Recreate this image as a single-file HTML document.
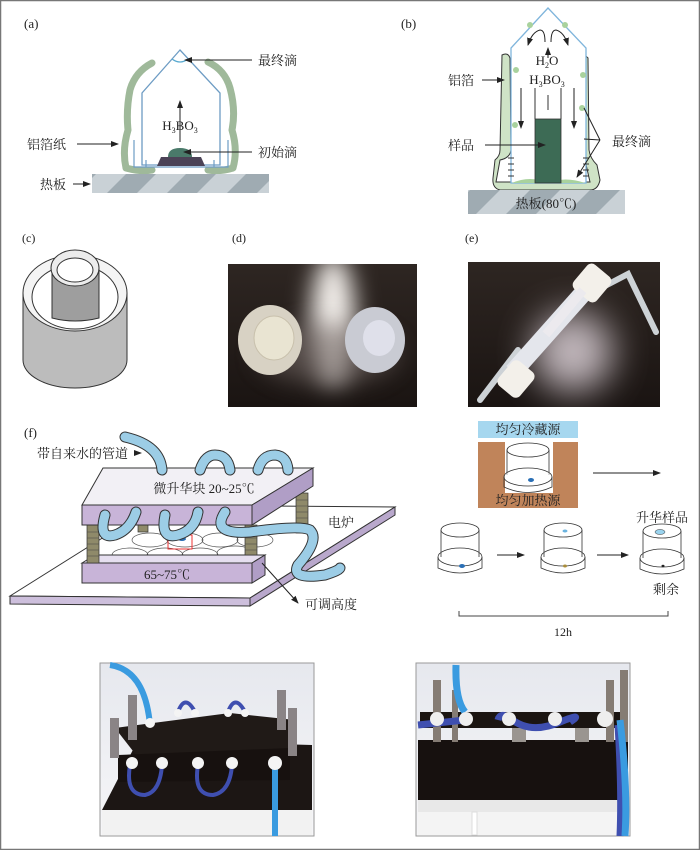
<!DOCTYPE html>
<html><head><meta charset="utf-8"><style>
html,body{margin:0;padding:0;background:#fff}
svg{display:block}
text{font-family:"Liberation Serif","Noto Serif CJK SC","Noto Sans CJK SC",serif;fill:#222}
</style></head><body>
<svg width="700" height="850" viewBox="0 0 700 850" xmlns="http://www.w3.org/2000/svg">
<defs>
<pattern id="hp" width="60" height="40" patternUnits="userSpaceOnUse" patternTransform="skewX(-45)">
<rect width="60" height="40" fill="#c9d1d6"/><rect width="30" height="40" fill="#9fabb2"/></pattern>
<marker id="ar" markerWidth="8" markerHeight="8" refX="7" refY="4" orient="auto" markerUnits="userSpaceOnUse"><path d="M0,1 L8,4 L0,7 z" fill="#222"/></marker>
<filter id="bl" x="-1" y="-1" width="3" height="3"><feGaussianBlur stdDeviation="12"/></filter>
<filter id="bl2" x="-1" y="-1" width="3" height="3"><feGaussianBlur stdDeviation="18"/></filter>
<linearGradient id="dk" x1="0" y1="0" x2="0" y2="1"><stop offset="0" stop-color="#2e2622"/><stop offset="1" stop-color="#1a1412"/></linearGradient>
<linearGradient id="wall" x1="0" y1="0" x2="0" y2="1"><stop offset="0" stop-color="#e6e8ee"/><stop offset="1" stop-color="#f6f6f8"/></linearGradient>
</defs>
<rect x="0.5" y="0.5" width="699" height="849" fill="#fff" stroke="#777" stroke-width="1.5"/>

<!-- (a) -->
<text x="24" y="28" font-size="13">(a)</text>
<g fill="none" stroke="#9fb99a" stroke-width="7" stroke-linecap="round" stroke-linejoin="round">
<path d="M152,63 Q135,72 130,90 Q126,110 128,130 Q122,150 126,168 Q140,172 152,170"/>
<path d="M208,62 Q225,70 230,88 Q236,110 232,130 Q238,150 233,168 Q220,172 208,170"/>
</g>
<path d="M180,50 L142,93 L142,165 L220,165 L220,93 Z" fill="none" stroke="#6d9cc4" stroke-width="1.3"/>
<path d="M134,140 V167 H228 V140 M146,160 V167 M214,160 V167" fill="none" stroke="#6d9cc4" stroke-width="1.2"/>
<path d="M172,59 Q180,65 188,59" fill="none" stroke="#5aaad0" stroke-width="1.3"/>
<path d="M157,166 L161,157 L201,157 L205,166 Z" fill="#4c4357"/>
<path d="M168,157 Q168,148 180,148 Q192,148 192,157 Z" fill="#4a7a6a"/>
<line x1="180" y1="142" x2="180" y2="101" stroke="#222" marker-end="url(#ar)"/>
<text x="180" y="130" font-size="13" text-anchor="middle">H<tspan font-size="8" dy="3">3</tspan><tspan dy="-3">BO</tspan><tspan font-size="8" dy="3">3</tspan></text>
<rect x="92" y="174" width="177" height="19" fill="url(#hp)"/>
<text x="258" y="65" font-size="13">最终滴</text><line x1="252" y1="60" x2="185" y2="60" stroke="#222" marker-end="url(#ar)"/>
<text x="27" y="149" font-size="13">铝箔纸</text><line x1="77" y1="144" x2="118" y2="144" stroke="#222" marker-end="url(#ar)"/>
<text x="40" y="189" font-size="13">热板</text><line x1="73" y1="184" x2="90" y2="184" stroke="#222" marker-end="url(#ar)"/>
<text x="258" y="157" font-size="13">初始滴</text><line x1="252" y1="152" x2="184" y2="152" stroke="#222" marker-end="url(#ar)"/>

<!-- (b) -->
<text x="401" y="28" font-size="13">(b)</text>
<path d="M502,55 Q508,52 510,58 L511,150 Q510,158 500,160 L496,182 L590,182 L585,160 Q578,158 576,150 L576,56 Q582,52 588,58 L589,150 Q590,158 597,165 L600,180 Q598,190 590,190 L500,190 Q492,188 493,178 L495,160 Q500,156 500,150 Z" fill="#cfe3c6" stroke="#333" stroke-width="1"/>
<path d="M548,8 L511,48 L511,183 L586,183 L586,48 Z" fill="#fff" stroke="#7fb5dc" stroke-width="1.3"/>
<path d="M512,183 Q530,175 548,183 Q565,176 585,183 Z" fill="#a9d29d"/>
<circle cx="516" cy="70" r="3" fill="#a9d29d"/><circle cx="583" cy="75" r="3" fill="#a9d29d"/><circle cx="582" cy="108" r="3" fill="#a9d29d"/><circle cx="515" cy="125" r="3" fill="#a9d29d"/><circle cx="530" cy="25" r="3" fill="#a9d29d"/><circle cx="565" cy="25" r="3" fill="#a9d29d"/>
<rect x="535" y="119" width="26" height="64" fill="#3d6b55" stroke="#333" stroke-width="0.8"/>
<path d="M535,88 V119 M561,88 V119 M548,95 V110" stroke="#333" fill="none"/>
<path d="M508,158 h6 M508,164 h6 M508,170 h6 M508,176 h6 M583,158 h6 M583,164 h6 M583,170 h6 M583,176 h6" stroke="#333"/>
<line x1="521" y1="88" x2="521" y2="128" stroke="#222" marker-end="url(#ar)"/>
<line x1="574" y1="88" x2="574" y2="128" stroke="#222" marker-end="url(#ar)"/>
<line x1="548" y1="58" x2="548" y2="48" stroke="#222" marker-end="url(#ar)"/>
<path d="M545,42 Q545,30 540,30 Q532,32 528,45" fill="none" stroke="#222" marker-end="url(#ar)"/>
<path d="M551,42 Q551,30 556,30 Q564,32 568,45" fill="none" stroke="#222" marker-end="url(#ar)"/>
<text x="547" y="65" font-size="13" text-anchor="middle">H<tspan font-size="8" dy="3">2</tspan><tspan dy="-3">O</tspan></text>
<text x="547" y="84" font-size="13" text-anchor="middle">H<tspan font-size="8" dy="3">3</tspan><tspan dy="-3">BO</tspan><tspan font-size="8" dy="3">3</tspan></text>
<rect x="468" y="190" width="157" height="24" fill="url(#hp)"/>
<text x="546" y="208" font-size="13" text-anchor="middle">热板(80℃)</text>
<text x="448" y="85" font-size="13">铝箔</text><line x1="482" y1="80" x2="504" y2="80" stroke="#222" marker-end="url(#ar)"/>
<text x="448" y="150" font-size="13">样品</text><line x1="485" y1="145" x2="545" y2="145" stroke="#222" marker-end="url(#ar)"/>
<text x="612" y="146" font-size="13">最终滴</text>
<path d="M600,140 L584,108 M600,140 L584,139 M600,140 L577,177" stroke="#222" fill="none" marker-end="url(#ar)"/>

<!-- (c) -->
<text x="22" y="242" font-size="12">(c)</text>
<path d="M23,293 V360 A52,28 0 0 0 127,360 V293" fill="#bcbcbc" stroke="#333"/>
<ellipse cx="75" cy="293" rx="52" ry="38" fill="#f4f4f4" stroke="#333"/>
<ellipse cx="75" cy="297" rx="43" ry="32" fill="#fff" stroke="#333"/>
<path d="M52,268 V318 Q75,324 99,318 V268 Z" fill="#9e9e9e" stroke="#333"/>
<ellipse cx="75" cy="268" rx="24" ry="18" fill="#ececec" stroke="#333"/>
<ellipse cx="75" cy="270" rx="18" ry="12" fill="#fff" stroke="#333"/>

<!-- (d) -->
<text x="232" y="242" font-size="12">(d)</text>
<svg x="228" y="264" width="189" height="143">
<rect width="189" height="143" fill="url(#dk)"/>
<ellipse cx="105" cy="55" rx="22" ry="65" fill="#f4f0ec" filter="url(#bl)"/>
<ellipse cx="100" cy="90" rx="70" ry="30" fill="#6e6460" opacity="0.6" filter="url(#bl)"/>
<ellipse cx="42" cy="76" rx="32" ry="35" fill="#d8d2c4"/>
<ellipse cx="46" cy="74" rx="20" ry="22" fill="#e9e4d2" stroke="#c8c0ac"/>
<ellipse cx="147" cy="76" rx="30" ry="33" fill="#c9cbd3"/>
<ellipse cx="151" cy="74" rx="16" ry="18" fill="#dfe0ea"/>
</svg>

<!-- (e) -->
<text x="465" y="242" font-size="12">(e)</text>
<svg x="468" y="262" width="192" height="145">
<rect width="192" height="145" fill="url(#dk)"/>
<ellipse cx="105" cy="90" rx="40" ry="40" fill="#e8dde4" opacity="0.8" filter="url(#bl2)"/>
<path d="M12,138 L50,88 M135,25 L160,12 L188,70" stroke="#cdd2d6" stroke-width="6" fill="none" stroke-linecap="round"/>
<path d="M45,110 L125,20" stroke="#e4e6ec" stroke-width="18"/>
<rect x="32" y="103" width="32" height="28" rx="6" fill="#f3f0ea" transform="rotate(-50 48 117)"/>
<rect x="108" y="6" width="32" height="30" rx="6" fill="#f3f0ea" transform="rotate(-50 124 21)"/>
<rect x="70" y="52" width="42" height="9" fill="#eceaee" transform="rotate(-50 91 56)"/>
<rect x="80" y="40" width="42" height="9" fill="#eceaee" transform="rotate(-50 101 44)"/>
</svg>

<!-- (f) -->
<text x="24" y="437" font-size="13">(f)</text>
<path d="M10,596 L155,505 L395,507 L250,598 Z" fill="#fff" stroke="#333"/>
<path d="M10,596 L250,598 L250,606 L10,604 Z" fill="#cdbfdc" stroke="#333"/>
<path d="M250,598 L395,507 L395,515 L250,606 Z" fill="#b9a8cc" stroke="#333"/>
<g fill="none" stroke="#555" stroke-width="0.7">
<ellipse cx="130" cy="555" rx="18" ry="7"/><ellipse cx="165" cy="555" rx="18" ry="7"/><ellipse cx="200" cy="555" rx="18" ry="7"/><ellipse cx="235" cy="553" rx="18" ry="7"/>
<ellipse cx="150" cy="540" rx="18" ry="7"/><ellipse cx="185" cy="540" rx="18" ry="7"/><ellipse cx="220" cy="540" rx="18" ry="7"/><ellipse cx="255" cy="540" rx="18" ry="7"/>
</g>
<rect x="168" y="535" width="24" height="14" fill="none" stroke="#e33" stroke-width="1"/>
<ellipse cx="182" cy="539" rx="4" ry="2" fill="#2a6fb5"/>
<path d="M82,563 L95,555 L265,555 L252,563 Z" fill="#e6dff0" stroke="#333"/>
<rect x="82" y="563" width="170" height="20" fill="#c8b4d8" stroke="#333"/>
<path d="M252,563 L265,555 L265,575 L252,583 Z" fill="#b09ec6" stroke="#333"/>
<text x="167" y="579" font-size="13" text-anchor="middle">65~75℃</text>
<g fill="#8f8a6a" stroke="#333" stroke-width="0.7">
<rect x="87" y="525" width="12" height="38"/><rect x="245" y="525" width="12" height="30"/><rect x="296" y="493" width="12" height="40"/><rect x="138" y="522" width="10" height="10"/>
</g>
<g stroke="#444" stroke-width="0.6">
<path d="M87,532h12M87,538h12M87,544h12M87,550h12M87,556h12M245,532h12M245,538h12M245,544h12M245,550h12M296,500h12M296,506h12M296,512h12M296,518h12M296,524h12"/>
</g>
<path d="M82,505 L103,468 L313,468 L252,505 Z" fill="#f2f0f5" stroke="#333"/>
<rect x="82" y="505" width="170" height="20" fill="#c8b4d8" stroke="#333"/>
<path d="M252,505 L313,468 L313,486 L252,525 Z" fill="#b09ec6" stroke="#333"/>
<text x="204" y="493" font-size="13" text-anchor="middle">微升华块  20~25℃</text>
<g fill="none" stroke-linecap="round">
<path d="M125,437 Q160,445 162,470" stroke="#333" stroke-width="11"/><path d="M125,437 Q160,445 162,470" stroke="#9ccde6" stroke-width="9"/>
<path d="M200,470 Q205,455 215,455 Q228,455 230,470" stroke="#333" stroke-width="11"/><path d="M200,470 Q205,455 215,455 Q228,455 230,470" stroke="#9ccde6" stroke-width="9"/>
<path d="M258,470 Q262,455 275,455 Q287,456 288,470" stroke="#333" stroke-width="11"/><path d="M258,470 Q262,455 275,455 Q287,456 288,470" stroke="#9ccde6" stroke-width="9"/>
<path d="M105,515 Q98,540 115,535 Q130,530 136,512" stroke="#333" stroke-width="11"/><path d="M105,515 Q98,540 115,535 Q130,530 136,512" stroke="#9ccde6" stroke-width="9"/>
<path d="M165,515 Q160,540 178,535 Q195,530 198,512" stroke="#333" stroke-width="11"/><path d="M165,515 Q160,540 178,535 Q195,530 198,512" stroke="#9ccde6" stroke-width="9"/>
<path d="M225,512 Q210,535 250,532 Q300,525 310,530 Q320,540 298,565 Q290,580 325,575 Q340,570 340,568" stroke="#333" stroke-width="11"/><path d="M225,512 Q210,535 250,532 Q300,525 310,530 Q320,540 298,565 Q290,580 325,575 Q340,570 340,568" stroke="#9ccde6" stroke-width="9"/>
</g>
<text x="37" y="458" font-size="13">带自来水的管道</text><line x1="135" y1="453" x2="141" y2="453" stroke="#222" marker-end="url(#ar)"/>
<text x="328" y="527" font-size="13">电炉</text>
<text x="305" y="609" font-size="13">可调高度</text><line x1="262" y1="563" x2="298" y2="603" stroke="#222" marker-end="url(#ar)"/>

<!-- right f -->
<rect x="478" y="421" width="100" height="17" fill="#a6d7ef"/>
<text x="528" y="434" font-size="13" text-anchor="middle">均匀冷藏源</text>
<path d="M478,442 H505 V493 H553 V442 H578 V508 H478 Z" fill="#c0845a"/>
<text x="528" y="505" font-size="13" text-anchor="middle">均匀加热源</text>
<g fill="none" stroke="#333" stroke-width="0.8">
<ellipse cx="528" cy="450" rx="21" ry="7" fill="#fff"/><path d="M507,450 V475 M549,450 V475"/><ellipse cx="528" cy="477" rx="24" ry="9" fill="#fff" fill-opacity="0.6"/><path d="M504,477 V487 Q528,498 552,487 V477"/>
</g>
<ellipse cx="531" cy="480" rx="3" ry="2" fill="#2a6fb5"/>
<line x1="593" y1="473" x2="660" y2="473" stroke="#222" marker-end="url(#ar)"/>
<g fill="none" stroke="#333" stroke-width="0.8">
<ellipse cx="460" cy="530" rx="19" ry="7"/><path d="M441,530 V557 M479,530 V557"/><ellipse cx="460" cy="557" rx="22" ry="9"/><path d="M438,557 V568 Q460,578 482,568 V557"/>
<ellipse cx="563" cy="530" rx="19" ry="7"/><path d="M544,530 V557 M582,530 V557"/><ellipse cx="563" cy="557" rx="22" ry="9"/><path d="M541,557 V568 Q563,578 585,568 V557"/>
<ellipse cx="662" cy="531" rx="19" ry="7"/><path d="M643,531 V558 M681,531 V558"/><ellipse cx="662" cy="558" rx="22" ry="9"/><path d="M640,558 V569 Q662,579 684,569 V558"/>
</g>
<ellipse cx="462" cy="566" rx="3" ry="2" fill="#2a6fb5"/><ellipse cx="565" cy="531" rx="2.5" ry="1.5" fill="#6ab3df"/><ellipse cx="565" cy="566" rx="2" ry="1.5" fill="#a98c3a"/>
<ellipse cx="660" cy="532" rx="5" ry="2.5" fill="#9ad3ee" stroke="#333" stroke-width="0.5"/><ellipse cx="663" cy="566" rx="1.5" ry="1.2" fill="#222"/>
<line x1="497" y1="555" x2="524" y2="555" stroke="#222" marker-end="url(#ar)"/>
<line x1="597" y1="555" x2="628" y2="555" stroke="#222" marker-end="url(#ar)"/>
<text x="662" y="522" font-size="13" text-anchor="middle">升华样品</text>
<text x="666" y="594" font-size="13" text-anchor="middle">剩余</text>
<path d="M459,611 V616 H668 V611" fill="none" stroke="#444"/>
<text x="563" y="636" font-size="12" text-anchor="middle">12h</text>

<!-- photo 1 -->
<g>
<rect x="100" y="663" width="214" height="173" fill="url(#wall)" stroke="#999"/>
<path d="M102,810 L138,740 L312,745 L312,812 Z" fill="#1c1614"/>
<rect x="102" y="810" width="210" height="25" fill="#f2f2f2"/>
<path d="M115,728 L230,713 L295,720 L292,755 L140,760 Z" fill="#201a17"/>
<path d="M118,755 L290,748 L290,780 L118,782 Z" fill="#17110f"/>
<g fill="#8a8486"><rect x="128" y="695" width="9" height="45"/><rect x="277" y="690" width="9" height="40"/><rect x="110" y="718" width="9" height="40"/><rect x="288" y="708" width="9" height="48"/></g>
<g fill="none" stroke="#3f4fb0" stroke-width="4">
<path d="M130,765 Q125,795 145,795 Q160,792 162,765"/><path d="M198,765 Q193,795 213,795 Q230,792 232,765"/>
<path d="M178,712 Q185,693 195,712"/><path d="M228,712 Q235,693 245,712"/>
</g>
<path d="M275,765 V836 M110,665 Q145,670 150,725" fill="none" stroke="#3a9be0" stroke-width="6"/>
<g fill="#f4f4f4"><circle cx="132" cy="763" r="6"/><circle cx="162" cy="763" r="6"/><circle cx="198" cy="763" r="6"/><circle cx="232" cy="763" r="6"/><circle cx="275" cy="763" r="7"/><circle cx="150" cy="723" r="5"/><circle cx="178" cy="713" r="4"/><circle cx="195" cy="713" r="4"/><circle cx="228" cy="713" r="4"/><circle cx="245" cy="713" r="4"/></g>
</g>
<!-- photo 2 -->
<g>
<rect x="416" y="663" width="214" height="173" fill="url(#wall)" stroke="#999"/>
<rect x="418" y="740" width="210" height="60" fill="#17110f"/>
<rect x="418" y="800" width="210" height="12" fill="#e8e8e8"/>
<rect x="418" y="812" width="210" height="23" fill="#f4f4f4"/>
<rect x="472" y="812" width="5" height="23" fill="#fff" stroke="#ddd"/>
<rect x="420" y="712" width="206" height="16" fill="#1b1512"/>
<g fill="#857c74"><rect x="433" y="680" width="8" height="62"/><rect x="452" y="690" width="6" height="52"/><rect x="606" y="680" width="8" height="62"/><rect x="620" y="670" width="8" height="72"/></g>
<g fill="#9a9590"><rect x="512" y="728" width="14" height="14"/><rect x="575" y="728" width="14" height="14"/></g>
<path d="M418,725 L465,720 M498,720 Q500,712 510,718 Q530,735 560,722 Q585,712 570,722 M618,725 Q622,790 620,836" fill="none" stroke="#3f4fb0" stroke-width="7"/>
<path d="M620,720 Q628,790 625,836 M456,665 Q455,700 465,712" fill="none" stroke="#3a9be0" stroke-width="7"/>
<g fill="#eeeeee"><circle cx="437" cy="719" r="7"/><circle cx="466" cy="719" r="7"/><circle cx="509" cy="719" r="7"/><circle cx="555" cy="719" r="7"/><circle cx="605" cy="719" r="8"/></g>
</g>
</svg>
</body></html>
